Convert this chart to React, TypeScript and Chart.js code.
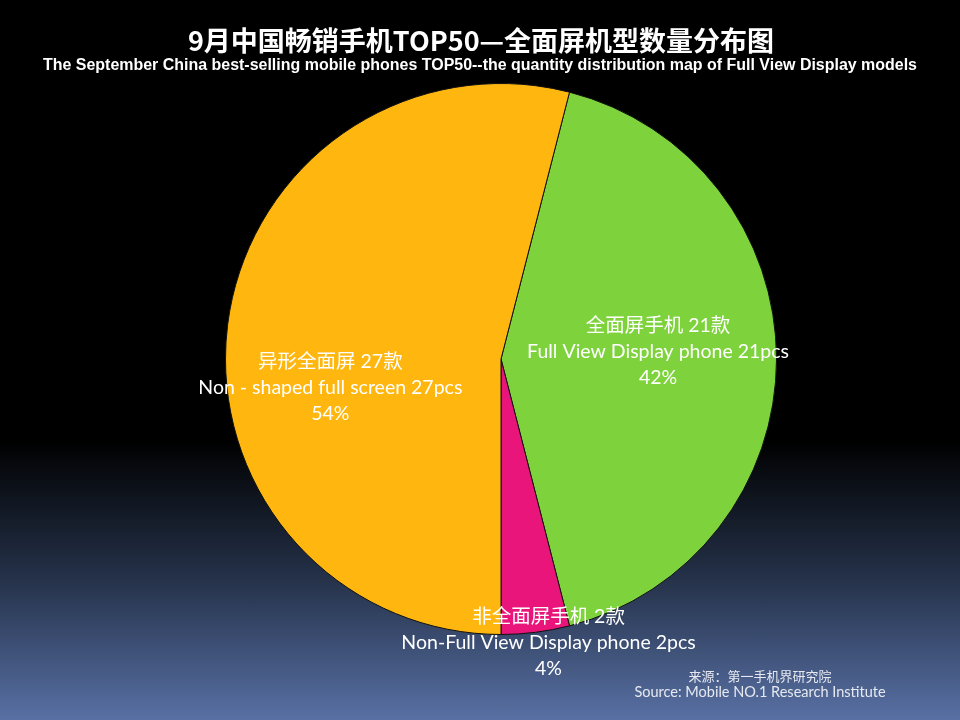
import React, { useEffect, useRef } from "react";
import { Chart, registerables } from "chart.js";

Chart.register(...registerables);

const titleText = "9月中国畅销手机TOP50—全面屏机型数量分布图";
const subtitleText =
  "The September China best-selling mobile phones TOP50--the quantity distribution map of Full View Display models";
const categoriesZh = ["全面屏手机", "非全面屏手机", "异形全面屏"];
const categoriesEn = ["Full View Display phone", "Non-Full View Display phone", "Non - shaped full screen"];
const counts = [21, 2, 27];
const sliceColors = ["#7ED33D", "#E9157A", "#FFB710"];
const sourceZh = "来源：第一手机界研究院";
const sourceEn = "Source: Mobile NO.1 Research Institute";

// label placement style: fraction of radius along mid-angle + pixel nudge
const labelRadiusFactor = [0.57, 1.0, 0.5];
const labelNudgeX = [0, 13, -34];
const labelNudgeY = [-7, 10, 46];

const textPlugin = {
  id: "chartTexts",
  afterDatasetsDraw(chart: any) {
    const ctx = chart.ctx;
    const meta = chart.getDatasetMeta(0);
    const total = counts.reduce((a, b) => a + b, 0);
    ctx.save();
    ctx.textAlign = "center";
    ctx.textBaseline = "middle";
    ctx.fillStyle = "#ffffff";
    meta.data.forEach((arc: any, i: number) => {
      const p = arc.getProps(["x", "y", "startAngle", "endAngle", "outerRadius"], true);
      const mid = (p.startAngle + p.endAngle) / 2;
      const cx = p.x + Math.cos(mid) * p.outerRadius * labelRadiusFactor[i] + labelNudgeX[i];
      const cy = p.y + Math.sin(mid) * p.outerRadius * labelRadiusFactor[i] + labelNudgeY[i];
      const pct = Math.round((counts[i] / total) * 100) + "%";
      ctx.font = "19.5px Lato, 'Noto Sans CJK SC'";
      ctx.fillText(`${categoriesZh[i]} ${counts[i]}款`, cx, cy - 26);
      ctx.fillText(`${categoriesEn[i]} ${counts[i]}pcs`, cx, cy);
      ctx.fillText(pct, cx, cy + 26);
    });
    ctx.restore();
  },
  afterDraw(chart: any) {
    const ctx = chart.ctx;
    const w = chart.width;
    ctx.save();
    ctx.textAlign = "center";
    ctx.textBaseline = "middle";
    ctx.fillStyle = "#ffffff";
    ctx.font = "bold 27px 'Noto Sans CJK SC'";
    ctx.fillText(titleText, w / 2 + 1, 41);
    ctx.font = "bold 16px 'Liberation Sans', Arial";
    ctx.fillText(subtitleText, w / 2, 66, 874);
    ctx.fillStyle = "#e6e9f0";
    ctx.font = "13px 'Noto Sans CJK SC'";
    ctx.fillText(sourceZh, 760, 676);
    ctx.font = "14.5px Lato, 'Noto Sans'";
    ctx.fillText(sourceEn, 760, 692);
    ctx.restore();
  },
};

export default function App() {
  const ref = useRef<HTMLCanvasElement>(null);
  useEffect(() => {
    if (!ref.current) return;
    const chart = new Chart(ref.current, {
      type: "pie",
      data: {
        labels: categoriesZh,
        datasets: [
          {
            data: counts,
            backgroundColor: sliceColors,
            borderColor: "#111111",
            borderWidth: 1,
          },
        ],
      },
      options: {
        responsive: false,
        animation: false,
        rotation: 14.4,
        layout: { padding: { top: 83, bottom: 85, left: 100, right: 58 } },
        plugins: {
          legend: { display: false },
          tooltip: { enabled: false },
          title: { display: false },
          subtitle: { display: false },
        },
      },
      plugins: [textPlugin],
    });
    return () => chart.destroy();
  }, []);
  return (
    <div
      style={{
        position: "fixed",
        left: 0,
        top: 0,
        width: 960,
        height: 720,
        background: "linear-gradient(to bottom, #000000 0px, #000000 440px, #25324a 580px, #5870a4 720px)",
      }}
    >
      <canvas ref={ref} width={960} height={720} style={{ display: "block" }} />
    </div>
  );
}
